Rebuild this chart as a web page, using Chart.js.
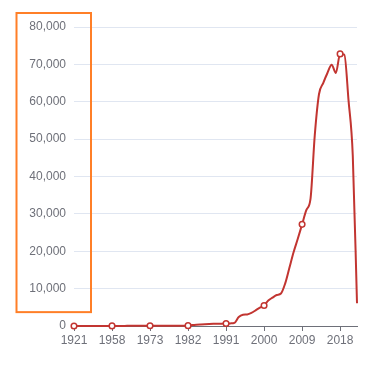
<!DOCTYPE html>
<html>
<head>
<meta charset="utf-8">
<script src="https://cdn.jsdelivr.net/npm/chart.js@4/dist/chart.umd.min.js"></script>
<style>
html,body{margin:0;padding:0;background:#fff;}
#wrap{width:390px;height:383px;position:relative;}
</style>
</head>
<body>
<div id="wrap"><canvas id="c" width="390" height="383"></canvas></div>
<script>
const years = [
  '1921','1927','1931','1936','1941','1945','1949','1952','1955',
  '1958','1960','1962','1964','1965','1966','1968','1970','1972',
  '1973','1974','1975','1976','1977','1978','1979','1980','1981',
  '1982','1983','1984','1985','1986','1987','1988','1989','1990',
  '1991','1992','1993','1994','1995','1996','1997','1998','1999',
  '2000','2001','2002','2003','2004','2005','2006','2007','2008',
  '2009','2010','2011','2012','2013','2014','2015','2016','2017',
  '2018','2019','2020','2021','2022'
];
const values = [
  5, 6, 8, 10, 12, 14, 16, 18, 20,
  25, 28, 30, 32, 35, 38, 40, 45, 50,
  55, 58, 60, 65, 70, 75, 80, 90, 95,
  100, 250, 350, 420, 480, 530, 570, 600, 630,
  650, 700, 850, 2400, 3000, 3100, 3500, 4200, 4900,
  5500, 6800, 7600, 8300, 8700, 11400, 15600, 19800, 23400,
  27200, 31000, 34100, 51000, 62000, 65000, 67700, 69900, 67700,
  72800, 72600, 60300, 45600, 6100
];
const yTicks = [0, 10000, 20000, 30000, 40000, 50000, 60000, 70000, 80000];
const labelEvery = 9;

const textColor = '#6E7079';
const fontSpec = {family: 'sans-serif', size: 12};

const highlightBox = {
  id: 'highlightBox',
  afterDraw(chart) {
    const y = chart.scales.y;
    const c = chart.ctx;
    const top = y.getPixelForValue(yTicks[yTicks.length - 1]) - 14;
    const bottom = y.getPixelForValue(yTicks[1]) + 23.5;
    c.save();
    c.strokeStyle = '#FF7F27';
    c.lineWidth = 2;
    c.strokeRect(16.5, top, 74.5, bottom - top);
    c.restore();
  }
};

new Chart(document.getElementById('c'), {
  type: 'line',
  data: {
    labels: years,
    datasets: [{
      data: values,
      borderColor: '#c23531',
      borderWidth: 2,
      backgroundColor: '#ffffff',
      pointBackgroundColor: '#ffffff',
      pointBorderColor: '#c23531',
      pointBorderWidth: 1.5,
      pointRadius: ctx => (ctx.dataIndex % labelEvery === 0 ? 2.8 : 0),
      pointHoverRadius: 3,
      cubicInterpolationMode: 'monotone',
      fill: false,
      clip: false
    }]
  },
  options: {
    responsive: false,
    animation: false,
    devicePixelRatio: 1,
    layout: {padding: {left: 0, right: 33, top: 27, bottom: 0}},
    plugins: {legend: {display: false}, tooltip: {enabled: false}},
    scales: {
      x: {
        type: 'category',
        offset: false,
        border: {display: true, color: textColor, width: 1},
        grid: {
          drawOnChartArea: false,
          drawTicks: true,
          tickLength: 5,
          color: ctx => (ctx.index % labelEvery === 0 ? textColor : 'rgba(0,0,0,0)')
        },
        ticks: {
          autoSkip: false,
          maxRotation: 0,
          padding: 2,
          color: textColor,
          font: fontSpec,
          callback: (v, i) => (i % labelEvery === 0 ? years[i] : '')
        },
        afterFit: s => { s.height = 57; }
      },
      y: {
        min: 0,
        max: 80000,
        border: {display: false},
        grid: {color: '#E0E6F1', drawTicks: false, tickLength: 0},
        afterBuildTicks: s => { s.ticks = yTicks.map(v => ({value: v})); },
        ticks: {
          padding: 8,
          color: textColor,
          font: fontSpec,
          callback: v => v.toLocaleString('en-US')
        },
        afterFit: s => { s.width = 74; }
      }
    }
  },
  plugins: [highlightBox]
});
</script>
</body>
</html>
